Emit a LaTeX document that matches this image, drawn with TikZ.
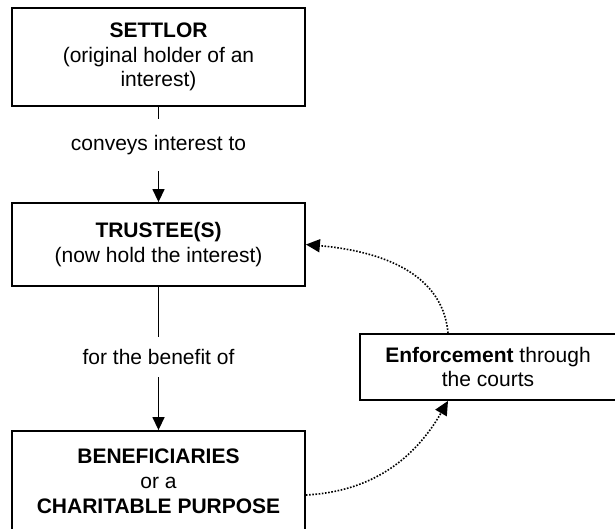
\documentclass[tikz,border=0pt]{standalone}
\usepackage{fontspec}
\setmainfont{Liberation Sans}
\usetikzlibrary{arrows.meta}

\begin{document}
\begin{tikzpicture}
    [x=0.5pt, y=0.5pt, font=\fontsize{10.5}{12.4}\selectfont,
     every node/.style={align=center},
     box/.style={draw, line width=0.9pt, minimum width=146.5pt, inner sep=0pt},
     link/.style={line width=0.7pt, -{Triangle[length=6.5pt,width=6pt]}},
     court/.style={line width=0.8pt, dash pattern=on 0.8pt off 0.8pt, -{Triangle[length=7pt,width=6.5pt]}}]
    \useasboundingbox (0,0) rectangle (615,-529);

    \node[box, minimum height=49pt] (settlor) at (158.5,-57) {\textbf{SETTLOR}\\(original holder of an\\interest)};
    \node[box, minimum height=41.5pt] (trustee) at (158.5,-244.5) {\textbf{TRUSTEE(S)}\\(now hold the interest)};
    \node[box, minimum height=50pt] (benef) at (158.5,-481) {\textbf{BENEFICIARIES}\\or a\\\textbf{CHARITABLE PURPOSE}};
    \node[box, minimum width=128pt, minimum height=33pt] (enforce) at (488,-367) {\textbf{Enforcement} through\\the courts};

    \draw[link] (settlor) -- node[pos=0.4, fill=white, minimum height=26pt] {conveys interest to} (trustee);
    \draw[link] (trustee) -- node[pos=0.49, fill=white, minimum height=20pt] {for the benefit of} (benef);

    % enforcement loop
    \draw[court] ([xshift=-20pt]enforce.north) to[out=95, in=-5] (trustee.east);
    \draw[court] ([yshift=-7pt]benef.east) to[out=3, in=240] ([xshift=-20pt]enforce.south);
\end{tikzpicture}
\end{document}
